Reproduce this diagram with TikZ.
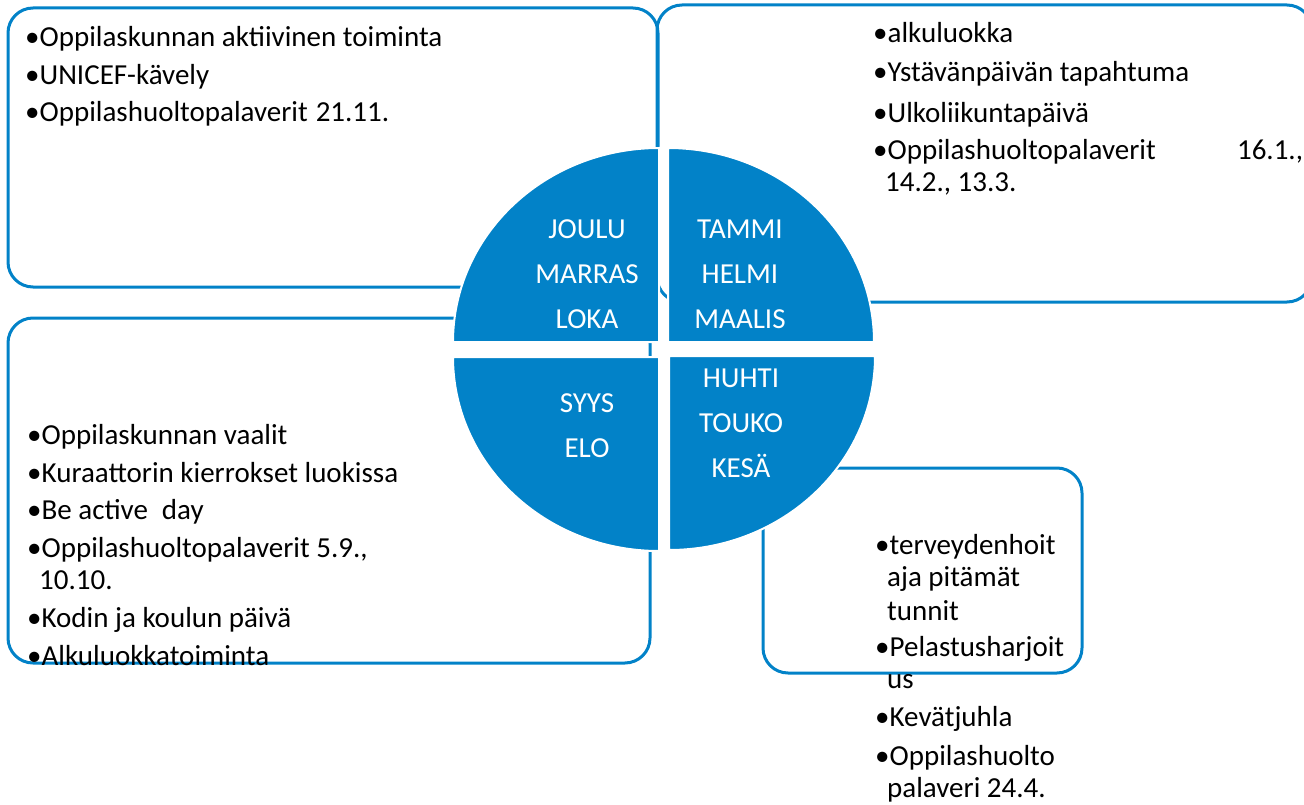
\documentclass[tikz,border=0pt]{standalone}
\usepackage{fontspec}
\setmainfont{Carlito}
\definecolor{vuosisini}{RGB}{2,130,200}

\begin{document}
\begin{tikzpicture}[x=1pt, y=-1pt,
    box/.style = {draw=vuosisini, line width=3pt, rounded corners=25pt},
    quarter/.style = {fill=vuosisini, draw=white, line width=2pt},
    items/.style = {anchor=base west, align=left, inner sep=0pt, font=\fontsize{29}{32}\selectfont},
    months/.style = {anchor=base, align=center, inner sep=0pt, text=white, font=\fontsize{29}{45}\selectfont}]

    \useasboundingbox (0,0) rectangle (1304,805);

    % Laatikot (piirretään ympyrän alle)
    \draw[box] (8,8) rectangle (658,287);
    \draw[box] (657,5) rectangle (1312,302);
    \draw[box] (8,318) rectangle (650,663);
    \draw[box] (763,468) rectangle (1082,673);

    % Ympyrän neljännekset
    \draw[quarter] (659,342) -- ++(-206,0) arc[start angle=180, end angle=270, x radius=206, y radius=194] -- cycle;
    \draw[quarter] (668,342) -- ++(0,-194) arc[start angle=270, end angle=360, x radius=206, y radius=194] -- cycle;
    \draw[quarter] (659,357) -- ++(-206,0) arc[start angle=180, end angle=90, x radius=206, y radius=194] -- cycle;
    \draw[quarter] (669,356) -- ++(206,0) arc[start angle=0, end angle=90, x radius=206, y radius=194] -- cycle;

    % Kuukaudet (ankkuri = viimeisen rivin perusviiva)
    \node[months] (q1) at (587,328) {JOULU\\MARRAS\\LOKA};
    \node[months] (q2) at (740,328) {TAMMI\\HELMI\\MAALIS};
    \node[months] (q3) at (587,457) {SYYS\\ELO};
    \node[months] (q4) at (741,477) {HUHTI\\TOUKO\\KESÄ};

    % Tapahtumat
    \node[items] (syksy) at (25,122) {•Oppilaskunnan aktiivinen toiminta\\[5.5pt]
        •UNICEF-kävely\\[5.5pt]
        •Oppilashuoltopalaverit\hspace{8pt}21.11.};
    \node[items] (talvi) at (873,192) {•alkuluokka\\[7pt]
        •Ystävänpäivän tapahtuma\\[9pt]
        •Ulkoliikuntapäivä\\[5pt]
        \makebox[364pt][l]{•Oppilashuoltopalaverit}16.1.,\\
        \hspace*{12pt}14.2., 13.3.};
    \node[items] (alku) at (27,665) {•Oppilaskunnan vaalit\\[6pt]
        •Kuraattorin kierrokset luokissa\\[5pt]
        •Be active\hspace{14pt}day\\[6pt]
        •Oppilashuoltopalaverit 5.9.,\\
        \hspace*{12pt}10.10.\\[6pt]
        •Kodin ja koulun päivä\\[6pt]
        •Alkuluokkatoiminta};
    \node[items] (kevat) at (875,797) {•terveydenhoit\\
        \hspace*{12pt}aja pitämät\\[2pt]
        \hspace*{12pt}tunnit\\[4pt]
        •Pelastusharjoit\\
        \hspace*{12pt}us\\[6pt]
        •Kevätjuhla\\[7pt]
        •Oppilashuolto\\
        \hspace*{12pt}palaveri 24.4.};

\end{tikzpicture}
\end{document}
